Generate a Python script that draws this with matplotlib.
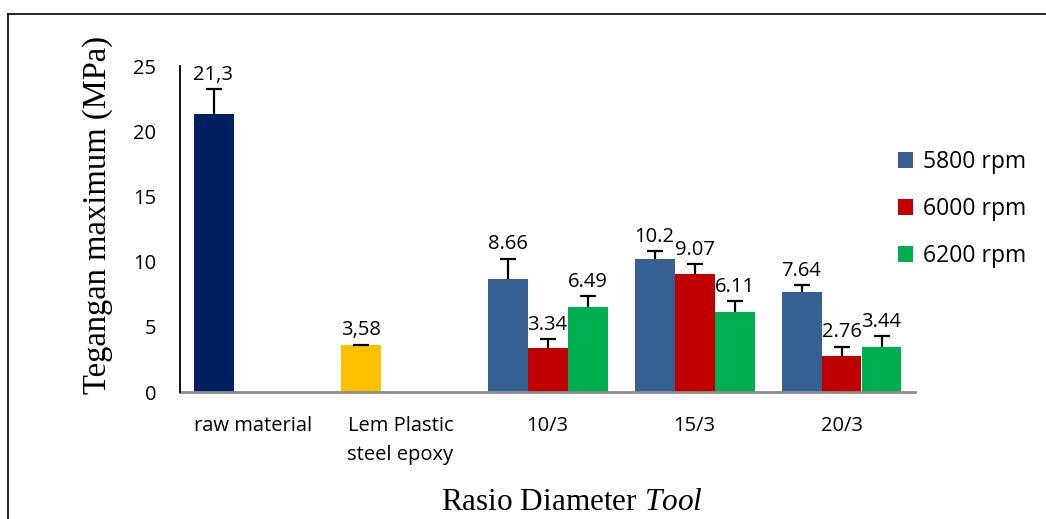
import numpy as np
import matplotlib
matplotlib.use("Agg")
import matplotlib.pyplot as plt
from matplotlib.patches import Patch
from matplotlib.lines import Line2D

# ================================================================
# DATA
# ================================================================
categories = ["raw material", "Lem Plastic\nsteel epoxy", "10/3", "15/3", "20/3"]

raw_val, raw_err, raw_lbl = [21.3], [1.9], ["21,3"]
lem_val, lem_err, lem_lbl = [3.58], [0.05], ["3,58"]

series_names = ["5800 rpm", "6000 rpm", "6200 rpm"]
rpm_vals = [
    [8.66, 10.2, 7.64],   # 5800
    [3.34, 9.07, 2.76],   # 6000
    [6.49, 6.11, 3.44],   # 6200
]
rpm_errs = [
    [1.57, 0.60, 0.59],
    [0.74, 0.75, 0.72],
    [0.89, 0.89, 0.87],
]
rpm_lbls = [
    ["8.66", "10.2", "7.64"],
    ["3.34", "9.07", "2.76"],
    ["6.49", "6.11", "3.44"],
]

# ================================================================
# STYLE
# ================================================================
W, H = 1046, 519
C_RAW, C_LEM = "#002060", "#FFC000"
C_RPM = ["#376092", "#C00000", "#00B050"]
SANS = ["Open Sans", "DejaVu Sans"]
SERIF = "Liberation Serif"

plt.rcParams["mathtext.fontset"] = "custom"
plt.rcParams["mathtext.rm"] = SERIF
plt.rcParams["mathtext.it"] = SERIF + ":italic"

fig = plt.figure(figsize=(W / 100, H / 100), dpi=100)
ax = fig.add_axes([180 / W, (H - 392) / H, 735 / W, 326 / H])

bw = 40 / 147
x = np.arange(len(categories))
ekw = dict(ecolor="black", elinewidth=1.6, capsize=6, capthick=1.6)


def add_bars(xpos, vals, errs, lbls, color, label=None):
    bc = ax.bar(xpos, vals, bw, color=color, label=label,
                yerr=[np.zeros(len(vals)), errs], error_kw=ekw, zorder=2)
    # upper error only: hide the lower cap
    caps = bc.errorbar.lines[1]
    if caps:
        caps[0].set_visible(False)
    for xi, v, e, t in zip(xpos, vals, errs, lbls):
        ax.annotate(t, (xi, v + e), xytext=(0, 3), textcoords="offset points",
                    ha="center", va="bottom", fontsize=14.5, family=SANS)


add_bars(x[:1] - bw, raw_val, raw_err, raw_lbl, C_RAW)
add_bars(x[1:2] - bw, lem_val, lem_err, lem_lbl, C_LEM)
for i in range(3):
    add_bars(x[2:] + (i - 1) * bw, rpm_vals[i], rpm_errs[i], rpm_lbls[i], C_RPM[i])

ax.set_xlim(-0.5, 4.5)
ax.set_ylim(0, 25)
ax.set_yticks([0, 5, 10, 15, 20, 25])
ax.set_xticks(x)
ax.set_xticklabels(categories, family=SANS, fontsize=14.5, linespacing=1.6)
for t in ax.get_yticklabels():
    t.set_family(SANS)
    t.set_fontsize(14.5)
ax.tick_params(axis="y", length=0, pad=17)
ax.tick_params(axis="x", length=0, pad=17)

for s in ["top", "right"]:
    ax.spines[s].set_visible(False)
ax.spines["left"].set_color("black")
ax.spines["left"].set_linewidth(1.3)
ax.spines["bottom"].set_color("#8c8c8c")
ax.spines["bottom"].set_linewidth(2)
ax.spines["left"].set_zorder(3)

ax.set_ylabel("Tegangan maximum (MPa)", family=SERIF, fontsize=23.5, va="center")
ax.yaxis.set_label_coords((98 - 180) / 735, (392 - 215) / 326)
ax.set_xlabel(r"Rasio Diameter $\it{Tool}$", family=SERIF, fontsize=22.5, va="center")
ax.xaxis.set_label_coords((572 - 180) / 735, (392 - 503) / 326)

handles = [Patch(facecolor=c) for c in C_RPM]
fig.legend(handles, series_names, loc="center left",
           bbox_to_anchor=(898 / W, (H - 209) / H), frameon=False,
           prop={"family": SANS, "size": 16.5}, handlelength=0.65,
           handleheight=0.65, handletextpad=0.45, labelspacing=1.0,
           borderpad=0, borderaxespad=0)

# outer frame (top and left edges visible)
fig.add_artist(Line2D([8 / W, 1], [(H - 14) / H] * 2, color="black", lw=1.2,
                      transform=fig.transFigure))
fig.add_artist(Line2D([8 / W] * 2, [0, (H - 14) / H], color="black", lw=1.2,
                      transform=fig.transFigure))

fig.savefig("out.png", dpi=100)
